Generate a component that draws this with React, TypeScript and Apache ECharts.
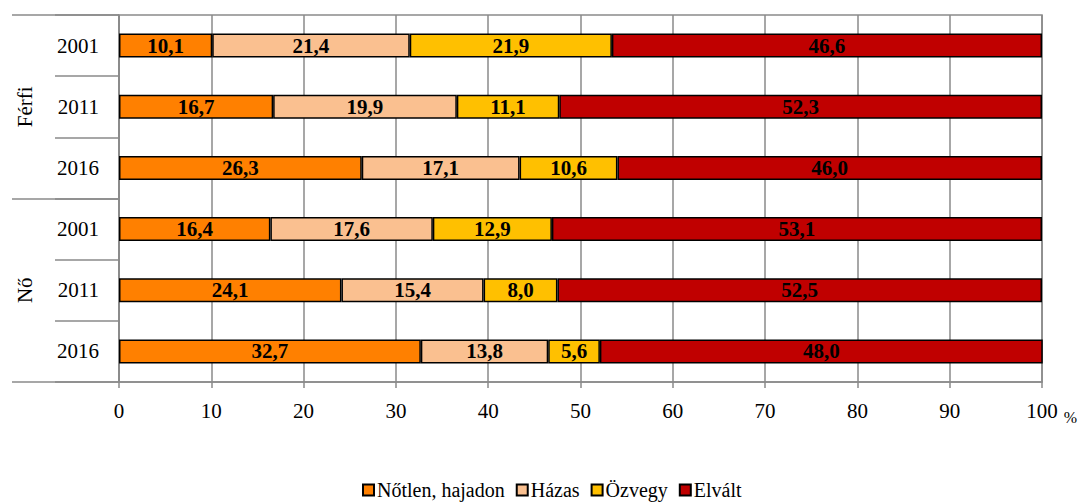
import React, { useEffect, useRef } from "react";
import * as echarts from "echarts";

const groups = ["Férfi", "Nő"];
const years = ["2001", "2011", "2016"];
const categories = groups.flatMap((g) => years.map((y) => `${g} ${y}`));
const seriesNames = ["Nőtlen, hajadon", "Házas", "Özvegy", "Elvált"];
const notlen = [10.1, 16.7, 26.3, 16.4, 24.1, 32.7];
const hazas = [21.4, 19.9, 17.1, 17.6, 15.4, 13.8];
const ozvegy = [21.9, 11.1, 10.6, 12.9, 8.0, 5.6];
const elvalt = [46.6, 52.3, 46.0, 53.1, 52.5, 48.0];
const colors = ["#FF8000", "#FAC090", "#FFC000", "#C00000"];

const FONT = "Liberation Serif";
const GREY = "#8a8a8a";
const FS = 21;

export default function App() {
  const ref = useRef<HTMLDivElement>(null);
  useEffect(() => {
    if (!ref.current) return;
    const chart = echarts.init(ref.current, undefined, { renderer: "svg" });
    const values = [notlen, hazas, ozvegy, elvalt];
    chart.setOption({
      animation: false,
      textStyle: { fontFamily: FONT },
      grid: {
        left: 119,
        right: 37,
        top: 15,
        bottom: 121,
        show: true,
        borderColor: GREY,
        borderWidth: 1.5,
      },
      legend: {
        left: 362,
        top: 480,
        padding: 0,
        itemWidth: 11,
        itemHeight: 11,
        itemGap: 11,
        icon: "rect",
        textStyle: {
          fontFamily: FONT,
          fontSize: 20,
          lineHeight: 20,
          color: "#000",
          padding: [0, 0, 0, -2],
        },
        data: seriesNames,
      },
      xAxis: {
        type: "value",
        min: 0,
        max: 100,
        interval: 10,
        axisLine: { show: true, lineStyle: { color: GREY, width: 1.5 } },
        axisTick: { show: true, length: 6, lineStyle: { color: GREY, width: 1.5 } },
        splitLine: { show: true, lineStyle: { color: GREY, width: 1.5 } },
        axisLabel: { fontFamily: FONT, fontSize: FS, color: "#000", margin: 18 },
        name: "%",
        nameLocation: "end",
        nameGap: 4,
        nameTextStyle: {
          fontFamily: FONT,
          fontSize: 16,
          color: "#000",
          verticalAlign: "top",
          padding: [27, 0, 0, 0],
        },
      },
      yAxis: [
        {
          type: "category",
          inverse: true,
          data: categories,
          axisLine: { show: true, lineStyle: { color: GREY, width: 1.5 } },
          axisTick: { show: true, length: 64, lineStyle: { color: GREY, width: 1.5 } },
          axisLabel: {
            fontFamily: FONT,
            fontSize: FS,
            color: "#000",
            margin: 20,
            formatter: (v: string) => v.split(" ")[1],
          },
        },
        {
          type: "category",
          inverse: true,
          position: "left",
          data: groups,
          axisLine: { show: false },
          axisTick: { show: true, length: 107, lineStyle: { color: GREY, width: 1.5 } },
          axisLabel: {
            fontFamily: FONT,
            fontSize: FS,
            color: "#000",
            rotate: 90,
            margin: 84,
          },
          splitLine: { show: false },
        },
      ],
      series: seriesNames.map((name, i) => ({
        name,
        type: "bar",
        stack: "total",
        yAxisIndex: 0,
        barWidth: 24,
        data: values[i],
        itemStyle: { color: colors[i], borderColor: "#000", borderWidth: 1.5 },
        label: {
          show: true,
          position: "inside",
          fontFamily: FONT,
          fontSize: FS,
          fontWeight: "bold",
          color: "#000",
          formatter: (p: any) => Number(p.value).toFixed(1).replace(".", ","),
        },
      })),
    });
    return () => chart.dispose();
  }, []);
  return <div ref={ref} style={{ width: 1080, height: 503, position: "absolute", left: 0, top: 0 }} />;
}
